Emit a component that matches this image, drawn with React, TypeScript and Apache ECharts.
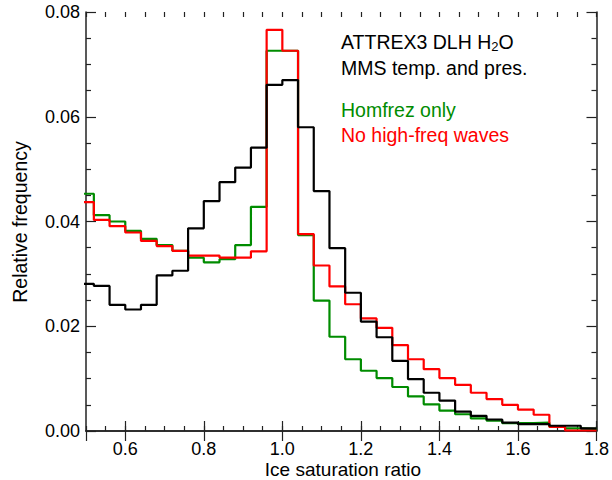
import React, { useEffect, useRef } from "react";
import * as echarts from "echarts";

// Histogram bin edges (ice saturation ratio)
const binEdges = [
  0.48, 0.52, 0.56, 0.6, 0.64, 0.68, 0.72, 0.76, 0.8, 0.84, 0.88, 0.92, 0.96,
  1.0, 1.04, 1.08, 1.12, 1.16, 1.2, 1.24, 1.28, 1.32, 1.36, 1.4, 1.44, 1.48,
  1.52, 1.56, 1.6, 1.64, 1.68, 1.72, 1.76, 1.8,
];

// Relative frequency per bin (33 bins)
const attrexBlack = [
  0.0281, 0.0277, 0.0241, 0.0232, 0.0241, 0.0297, 0.0306, 0.0387, 0.0439,
  0.0475, 0.0503, 0.0541, 0.0661, 0.067, 0.058, 0.0458, 0.0349, 0.0264, 0.0209,
  0.0179, 0.0134, 0.0099, 0.0073, 0.0058, 0.0037, 0.0029, 0.0022, 0.0016,
  0.0013, 0.0013, 0.001, 0.001, 0.0005,
];
const homfrezGreen = [
  0.0453, 0.0412, 0.04, 0.0382, 0.0367, 0.0355, 0.0344, 0.0331, 0.0322, 0.0328,
  0.0355, 0.0428, 0.0726, 0.0726, 0.0374, 0.0249, 0.018, 0.0137, 0.0115,
  0.0101, 0.0084, 0.0066, 0.0051, 0.0039, 0.0032, 0.0024, 0.002, 0.0015,
  0.0015, 0.0016, 0.0008, 0.0005, 0.0004,
];
const noWavesRed = [
  0.0437, 0.0403, 0.0391, 0.0379, 0.0363, 0.0353, 0.0344, 0.0335, 0.0335,
  0.0331, 0.0331, 0.0343, 0.0766, 0.0726, 0.0376, 0.0316, 0.0276, 0.0242,
  0.0215, 0.0197, 0.0164, 0.0137, 0.0118, 0.0101, 0.0088, 0.0073, 0.0061,
  0.005, 0.0041, 0.0031, 0.0008, 0.0001, 0.0001,
];

const legendLines = ["ATTREX3 DLH H{sub|2}O", "MMS temp. and pres."];
const seriesNames = ["Homfrez only", "No high-freq waves"];

const FONT = "'Liberation Sans', Arial, Helvetica, sans-serif";
const AXIS_COLOR = "#222";
const GREEN = "#008c00";
const RED = "#ff0000";
const TEXT_SIZE = 19.5;

function toSteps(vals: number[]) {
  return binEdges.map((e, i) => [e, vals[Math.min(i, vals.length - 1)]]);
}

export default function App() {
  const ref = useRef<HTMLDivElement>(null);
  useEffect(() => {
    if (!ref.current) return;
    const chart = echarts.init(ref.current, null, { renderer: "svg" });
    const lineAxis = { show: true, lineStyle: { color: AXIS_COLOR, width: 1.5 } };
    const majorX = {
      type: "value",
      min: 0.5,
      max: 1.8,
      splitNumber: 6,
      axisLine: lineAxis,
      axisTick: { show: true, inside: true, length: 10, lineStyle: { color: AXIS_COLOR, width: 1.2 } },
      splitLine: { show: false },
    };
    const minorX = {
      type: "value",
      min: 0.5,
      max: 1.8,
      interval: 0.05,
      axisLine: { show: false },
      axisTick: { show: true, inside: true, length: 5, lineStyle: { color: AXIS_COLOR, width: 1.2 } },
      axisLabel: { show: false },
      splitLine: { show: false },
    };
    const yBase = {
      type: "value",
      min: 0,
      max: 0.08,
      interval: 0.02,
      axisLine: lineAxis,
      axisTick: { show: true, inside: true, length: 10, lineStyle: { color: AXIS_COLOR, width: 1.2 } },
      minorTick: { show: true, splitNumber: 4, length: 5, lineStyle: { color: AXIS_COLOR, width: 1.2 } },
      splitLine: { show: false },
      minorSplitLine: { show: false },
    };
    const lineSeries = (name: string, vals: number[], color: string) => ({
      name,
      type: "line",
      step: "end",
      data: toSteps(vals),
      showSymbol: false,
      symbol: "none",
      lineStyle: { color, width: 2.2 },
      xAxisIndex: 0,
      yAxisIndex: 0,
      clip: true,
    });
    const textStyle = (text: string, fill: string, extra: any = {}) => ({
      text,
      fontSize: TEXT_SIZE,
      fontFamily: FONT,
      fill,
      textAlign: "left",
      textVerticalAlign: "middle",
      ...extra,
    });
    chart.setOption({
      animation: false,
      backgroundColor: "#fff",
      grid: { left: 86, right: 14, top: 12, bottom: 49, containLabel: false },
      xAxis: [
        {
          ...majorX,
          position: "bottom",
          axisLabel: {
            show: true,
            fontSize: 18,
            lineHeight: 14,
            fontFamily: FONT,
            color: "#000",
            margin: 11,
            showMinLabel: false,
            formatter: (v: number) => v.toFixed(1),
          },
        },
        { ...majorX, position: "top", axisLabel: { show: false } },
        { ...minorX, position: "bottom" },
        { ...minorX, position: "top" },
      ],
      yAxis: [
        {
          ...yBase,
          position: "left",
          axisLabel: {
            show: true,
            fontSize: 18,
            fontFamily: FONT,
            color: "#000",
            margin: 6,
            formatter: (v: number) => v.toFixed(2),
          },
        },
        { ...yBase, position: "right", axisLabel: { show: false } },
      ],
      series: [
        lineSeries(seriesNames[0], homfrezGreen, GREEN),
        lineSeries(seriesNames[1], noWavesRed, RED),
        lineSeries("ATTREX3 DLH H2O", attrexBlack, "#000"),
      ],
      graphic: [
        {
          type: "text",
          x: 343,
          y: 469.5,
          style: textStyle("Ice saturation ratio", "#000", { textAlign: "center", fontSize: 19 }),
        },
        {
          type: "text",
          x: 20,
          y: 222,
          rotation: Math.PI / 2,
          style: textStyle("Relative frequency", "#000", { textAlign: "center" }),
        },
        {
          type: "text",
          x: 341,
          y: 42,
          style: textStyle(legendLines[0], "#000", {
            rich: {
              sub: { fontSize: 13, fontFamily: FONT, fill: "#000", padding: [8, 0, 0, 0] },
            },
          }),
        },
        { type: "text", x: 341, y: 68, style: textStyle(legendLines[1], "#000") },
        { type: "text", x: 341, y: 110, style: textStyle(seriesNames[0], GREEN) },
        { type: "text", x: 341, y: 135, style: textStyle(seriesNames[1], RED) },
      ],
    });
    return () => chart.dispose();
  }, []);
  return <div ref={ref} style={{ width: 612, height: 480, position: "absolute", left: 0, top: 0 }} />;
}
